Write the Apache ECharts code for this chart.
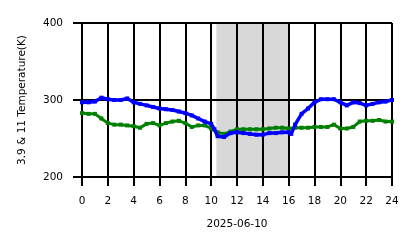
<!DOCTYPE html>
<html>
<head>
<meta charset="utf-8">
<script src="https://cdn.jsdelivr.net/npm/echarts@6/dist/echarts.min.js"></script>
<style>html,body{margin:0;padding:0;background:#fff}#c{width:418px;height:248px}</style>
</head>
<body>
<div id="c"></div>
<script>
const xTicks = [0,2,4,6,8,10,12,14,16,18,20,22,24];
const yTicks = [200,300,400];
const xLabel = "2025-06-10";
const yLabel = "3.9 & 11 Temperature(K)";
const shadeRange = [10.4, 16.0];

const blueHours = [0,0.5,1,1.5,2,2.5,3,3.5,4,4.5,5,5.5,6,6.5,7,7.5,8,8.5,9,9.5,10,10.25,10.5,11,11.5,12,12.5,13,13.5,14,14.5,15,15.5,16,16.2,16.5,17,17.5,18,18.5,19,19.5,20,20.5,21,21.5,22,22.5,23,23.5,24];
const blueTemps = [297,297,298,303,301,300,300,302,297,295,293,291,289,288,287,285,283,280,276,272,269,262,253,252,257,258,257,256,255,255,257,257,258,258,256,268,282,289,297,301,301,301,297,293,297,296,293,295,297,298,300];

const greenHours = [0,0.5,1,1.5,2,2.5,3,3.5,4,4.5,5,5.5,6,6.5,7,7.5,8,8.5,9,9.5,10,10.5,11,11.5,12,12.5,13,13.5,14,14.5,15,15.5,16,16.5,17,17.5,18,18.5,19,19.5,20,20.5,21,21.5,22,22.5,23,23.5,24];
const greenTemps = [283,282,282,276,270,268,268,267,266,264,269,270,267,270,272,273,270,265,267,267,263,258,256,259,262,262,262,262,262,263,264,264,263,264,264,264,265,265,265,268,263,263,265,272,273,273,274,272,272];

const pair = (xs, ys) => xs.map((x, i) => [x, ys[i]]);
const font = 'DejaVu Sans';
const fs = 10.5;
const chart = echarts.init(document.getElementById('c'), null, {renderer: 'canvas'});
chart.setOption({
  animation: false,
  grid: {left: 82, right: 26, top: 23, bottom: 71},
  xAxis: {
    type: 'value', min: xTicks[0], max: xTicks[xTicks.length-1], interval: 2, z: 3,
    name: xLabel, nameLocation: 'middle', nameGap: 42,
    nameTextStyle: {fontFamily: font, fontSize: fs, color: '#000'},
    axisLine: {show: true, lineStyle: {color: '#000', width: 2}},
    axisTick: {show: true, length: 9, lineStyle: {color: '#000', width: 2}},
    axisLabel: {fontFamily: font, fontSize: fs, color: '#000', margin: 19},
    splitLine: {show: true, lineStyle: {color: '#000', width: 2}}
  },
  yAxis: {
    type: 'value', min: yTicks[0], max: yTicks[yTicks.length-1], interval: 100, z: 3,
    name: yLabel, nameLocation: 'middle', nameGap: 54, nameRotate: 90,
    nameTextStyle: {fontFamily: font, fontSize: fs, color: '#000'},
    axisLine: {show: true, lineStyle: {color: '#000', width: 2}},
    axisTick: {show: true, length: 9, lineStyle: {color: '#000', width: 2}},
    axisLabel: {fontFamily: font, fontSize: fs, color: '#000', margin: 19},
    splitLine: {show: true, lineStyle: {color: '#000', width: 2}}
  },
  series: [
    {
      type: 'line', data: [], z: 0, silent: true,
      markArea: {silent: true, itemStyle: {color: '#d8d8d8'},
        data: [[{xAxis: shadeRange[0]}, {xAxis: shadeRange[1]}]]}
    },
    {
      type: 'line', data: pair(greenHours, greenTemps), z: 5,
      symbol: 'rect', symbolSize: 4, showAllSymbol: true,
      lineStyle: {color: '#008000', width: 3},
      itemStyle: {color: '#008000'}
    },
    {
      type: 'line', data: pair(blueHours, blueTemps), z: 6,
      symbol: 'rect', symbolSize: 4, showAllSymbol: true,
      lineStyle: {color: '#0000ff', width: 3.5},
      itemStyle: {color: '#0000ff'}
    }
  ]
});
</script>
</body>
</html>
